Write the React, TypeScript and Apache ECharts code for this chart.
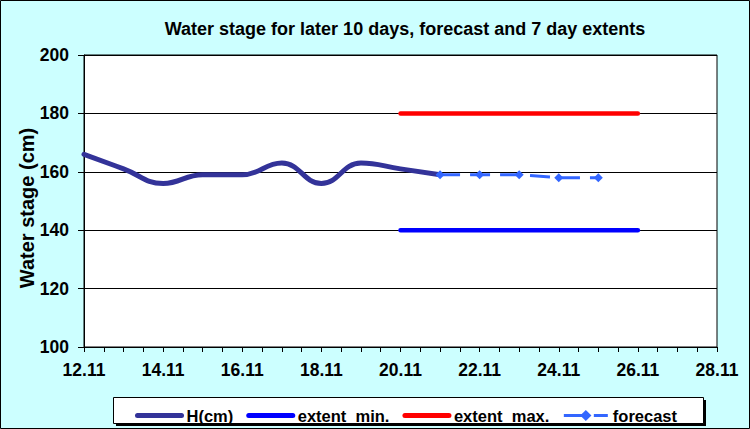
import React, { useEffect, useRef } from "react";
import * as echarts from "echarts";

const startDay = 12;
const monthLabel = "11";
const hDays = [0, 1, 2, 3, 4, 5, 6, 7, 8, 9];
const hValues = [166, 161, 156, 159, 159, 163, 156, 163, 161, 159];
const forecastDays = [9, 10, 11, 12, 13];
const forecastValues = [159, 159, 159, 158, 158];
const extentDays = [8, 14];
const extentMinValues = [140, 140];
const extentMaxValues = [180, 180];
const seriesNames = ["H(cm)", "extent_min.", "extent_max.", "forecast"];
const titleText = "Water stage for later 10 days, forecast and 7 day extents";
const yName = "Water stage (cm)";

const FONT = "'Liberation Sans', Arial, sans-serif";

export default function App() {
  const ref = useRef<HTMLDivElement>(null);
  useEffect(() => {
    if (!ref.current) return;
    const chart = echarts.init(ref.current, undefined, { renderer: "svg" });
    const zip = (xs: number[], ys: number[]) => xs.map((x, i) => [x, ys[i]]);
    const noSymbol = { color: "rgba(0,0,0,0)", borderWidth: 0, borderColor: "rgba(0,0,0,0)" };
    chart.setOption({
      animation: false,
      backgroundColor: "#CCFFFF",
      title: {
        text: titleText,
        left: 400,
        textAlign: "center",
        top: 15,
        textStyle: { fontFamily: FONT, fontWeight: "bold", fontSize: 18, color: "#000" },
      },
      graphic: [
        {
          type: "rect",
          shape: { x: 0.5, y: 0.5, width: 749, height: 428 },
          style: { fill: "none", stroke: "#000", lineWidth: 1 },
          z: 100,
        },
        {
          type: "rect",
          shape: { x: 116, y: 400, width: 590, height: 26 },
          style: { fill: "#000" },
          z: 1,
        },
        {
          type: "rect",
          shape: { x: 113.5, y: 397.5, width: 590, height: 26 },
          style: { fill: "#fff", stroke: "#000", lineWidth: 1 },
          z: 2,
        },
      ],
      legend: {
        data: [
          { name: seriesNames[0], itemStyle: noSymbol, lineStyle: { color: "#333399", width: 5, cap: "round" } },
          { name: seriesNames[1], itemStyle: noSymbol, lineStyle: { color: "#0000FF", width: 5, cap: "round" } },
          { name: seriesNames[2], itemStyle: noSymbol, lineStyle: { color: "#FF0000", width: 5, cap: "round" } },
          { name: seriesNames[3], lineStyle: { color: "#3366FF", width: 3 } },
        ],
        left: 130,
        top: 402,
        itemWidth: 44,
        itemHeight: 14,
        itemGap: 13,
        z: 10,
        textStyle: { fontFamily: FONT, fontWeight: "bold", fontSize: 16.5, color: "#000" },
      },
      grid: {
        left: 84,
        top: 55,
        right: 33,
        bottom: 82,
        show: true,
        backgroundColor: "#fff",
        borderColor: "#000",
        borderWidth: 1,
        containLabel: false,
      },
      xAxis: {
        type: "value",
        min: 0,
        max: 16,
        interval: 0.5,
        axisLine: { show: true, lineStyle: { color: "#000", width: 1 } },
        axisTick: { show: true, length: 5, lineStyle: { color: "#000" } },
        splitLine: { show: false },
        axisLabel: {
          fontFamily: FONT,
          fontWeight: "bold",
          fontSize: 17.5,
          color: "#000",
          margin: 14,
          showMinLabel: true,
          showMaxLabel: true,
          formatter: (v: number) =>
            Number.isInteger(v) && v % 2 === 0 ? `${startDay + v}.${monthLabel}` : "",
        },
      },
      yAxis: {
        type: "value",
        min: 100,
        max: 200,
        interval: 20,
        name: yName,
        nameLocation: "middle",
        nameGap: 47,
        nameMoveOverlap: false,
        nameTextStyle: { fontFamily: FONT, fontWeight: "bold", fontSize: 20, color: "#000", padding: [0, 0, 0, -14] },
        axisLine: { show: true, lineStyle: { color: "#000", width: 1 } },
        axisTick: { show: true, length: 6, lineStyle: { color: "#000" } },
        splitLine: { show: true, lineStyle: { color: "#000", width: 1 } },
        axisLabel: { fontFamily: FONT, fontWeight: "bold", fontSize: 17.5, color: "#000", margin: 15 },
      },
      series: [
        {
          name: seriesNames[0],
          type: "line",
          data: zip(hDays, hValues),
          smooth: 0.45,
          showSymbol: false,
          symbol: "none",
          lineStyle: { color: "#333399", width: 5, cap: "round" },
          itemStyle: { color: "#333399" },
          z: 5,
        },
        {
          name: seriesNames[1],
          type: "line",
          data: zip(extentDays, extentMinValues),
          showSymbol: false,
          symbol: "none",
          lineStyle: { color: "#0000FF", width: 4.5, cap: "round" },
          itemStyle: { color: "#0000FF" },
          z: 4,
        },
        {
          name: seriesNames[2],
          type: "line",
          data: zip(extentDays, extentMaxValues),
          showSymbol: false,
          symbol: "none",
          lineStyle: { color: "#FF0000", width: 4.5, cap: "round" },
          itemStyle: { color: "#FF0000" },
          z: 4,
        },
        {
          name: seriesNames[3],
          type: "line",
          data: zip(forecastDays, forecastValues),
          symbol: "diamond",
          symbolSize: 9,
          showSymbol: true,
          lineStyle: { color: "#3366FF", width: 3, type: [20, 10] },
          itemStyle: { color: "#3366FF" },
          z: 6,
        },
      ],
    });
    return () => chart.dispose();
  }, []);
  return (
    <div
      ref={ref}
      style={{ position: "fixed", left: 0, top: 0, width: 750, height: 429 }}
    />
  );
}
